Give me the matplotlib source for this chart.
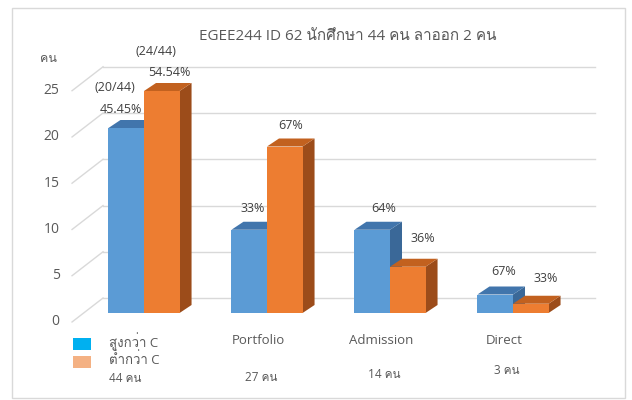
import matplotlib
matplotlib.use('Agg')
import matplotlib.pyplot as plt
from matplotlib import font_manager
from matplotlib.ft2font import FT2Font
from matplotlib.patches import Polygon, Rectangle

# data
title = 'EGEE244 ID 62 นักศึกษา 44 คน ลาออก 2 คน'
y_label = 'คน'
categories = ['', 'Portfolio', 'Admission', 'Direct']
counts = ['44 คน', '27 คน', '14 คน', '3 คน']
series_names = ['สูงกว่า C', 'ต่ำกว่า C']
above_c = [20, 9, 9, 2]
below_c = [24, 18, 5, 1]
above_pct = ['45.45%', '33%', '64%', '67%']
below_pct = ['54.54%', '67%', '36%', '33%']
above_frac = ['(20/44)', '', '', '']
below_frac = ['(24/44)', '', '', '']
yticks = [0, 5, 10, 15, 20, 25]

# label nudges (x in category units, y in value units)
above_dx = [-0.04, 0.03, 0.09, 0.07]
above_dy = [2.0, 2.35, 2.35, 2.45]
below_dx = [0.06, 0.05, 0.12, 0.12]
below_dy = [1.95, 2.3, 3.1, 2.7]
count_y = [-7.0, -7.0, -6.7, -6.2]


def thai_family():
    for f in font_manager.fontManager.ttflist:
        try:
            if FT2Font(f.fname).get_char_index(0x0E01):
                return f.name
        except Exception:
            pass
    return None


thai = thai_family()
fams = ['Open Sans'] + ([thai] if thai else []) + ['DejaVu Sans']
plt.rcParams['font.family'] = fams

BLUE = ('#5B9BD5', '#4175AC', '#3A6898')   # front, top, side
ORANGE = ('#ED7D31', '#C2611F', '#9C4C1A')
GRID = '#D9D9D9'
TXT = '#595959'
LBL = '#404040'

W = 0.289           # bar width
DX, DY = 0.0976, 0.865   # bar depth offset
FX0, FY0 = -0.585, -0.97  # floor front
FX1, FY1 = -0.333, 1.62   # floor back
XR = 3.667

fig = plt.figure(figsize=(6.32, 4.0), dpi=100)
ax = fig.add_axes([0, 0, 1, 1])
ax.set_xlim(-144 / 123, (632 - 144) / 123)
ax.set_ylim(-87 / 9.25, 313 / 9.25)
ax.axis('off')

# chart border
fig.patches.append(Rectangle((12 / 632, 2 / 400), 613 / 632, 390 / 400,
                             transform=fig.transFigure, fill=False,
                             edgecolor=GRID, lw=1))

# walls / gridlines
for v in yticks:
    ax.plot([FX1, XR], [v + FY1, v + FY1], color=GRID, lw=1, zorder=1)
    ax.plot([FX0, FX1], [v + FY0, v + FY1], color=GRID, lw=1, zorder=1)
    ax.text(FX0 - 0.1, v + FY0, str(v), ha='right', va='center',
            fontsize=10, color=TXT)
ax.text(-0.78, 27.5, y_label, ha='center', va='center', fontsize=9, color=TXT)


def bar3d(x0, h, cols):
    front, top, side = cols
    x1 = x0 + W
    ax.add_patch(Polygon([(x1, 0), (x1 + DX, DY), (x1 + DX, h + DY), (x1, h)],
                         closed=True, facecolor=side, edgecolor='none', zorder=2))
    ax.add_patch(Polygon([(x0, h), (x1, h), (x1 + DX, h + DY), (x0 + DX, h + DY)],
                         closed=True, facecolor=top, edgecolor='none', zorder=2))
    ax.add_patch(Rectangle((x0, 0), W, h, facecolor=front, edgecolor='none', zorder=2))


for i in range(len(categories)):
    bar3d(i - W, above_c[i], BLUE)
    bar3d(i, below_c[i], ORANGE)

    xb = i - W / 2 + above_dx[i]
    yb = above_c[i] + above_dy[i]
    ax.text(xb, yb, above_pct[i], ha='center', va='center', fontsize=9, color=LBL)
    if above_frac[i]:
        ax.text(xb - 0.05, yb + 2.35, above_frac[i], ha='center', va='center',
                fontsize=9, color=LBL)
    xo = i + W / 2 + below_dx[i]
    yo = below_c[i] + below_dy[i]
    ax.text(xo, yo, below_pct[i], ha='center', va='center', fontsize=9, color=LBL)
    if below_frac[i]:
        ax.text(xo - 0.11, yo + 2.35, below_frac[i], ha='center', va='center',
                fontsize=9, color=LBL)

    if categories[i]:
        ax.text(i - 0.07, -3.0, categories[i], ha='center', va='center',
                fontsize=9.5, color=TXT)
        ax.text(i - 0.05, count_y[i], counts[i], ha='center', va='center',
                fontsize=8.5, color=TXT)

# legend under the first group
ax.text(109 / 632, 1 - 378 / 400, counts[0], transform=ax.transAxes,
        ha='left', va='center', fontsize=8.5, color=TXT)
for k, (name, col) in enumerate(zip(series_names, ['#00B0F0', '#F4B183'])):
    yc = 344 + k * 18
    ax.add_patch(Rectangle((73 / 632, 1 - (yc + 6) / 400), 18 / 632, 12 / 400,
                           transform=ax.transAxes, facecolor=col, edgecolor='none'))
    ax.text(109 / 632, 1 - (yc - 2) / 400, name, transform=ax.transAxes,
            ha='left', va='center', fontsize=9.5, color=TXT)

fig.text(348 / 632, 1 - 37 / 400, title, ha='center', va='center',
         fontsize=11, color=TXT)

fig.savefig('out.png', dpi=100)
